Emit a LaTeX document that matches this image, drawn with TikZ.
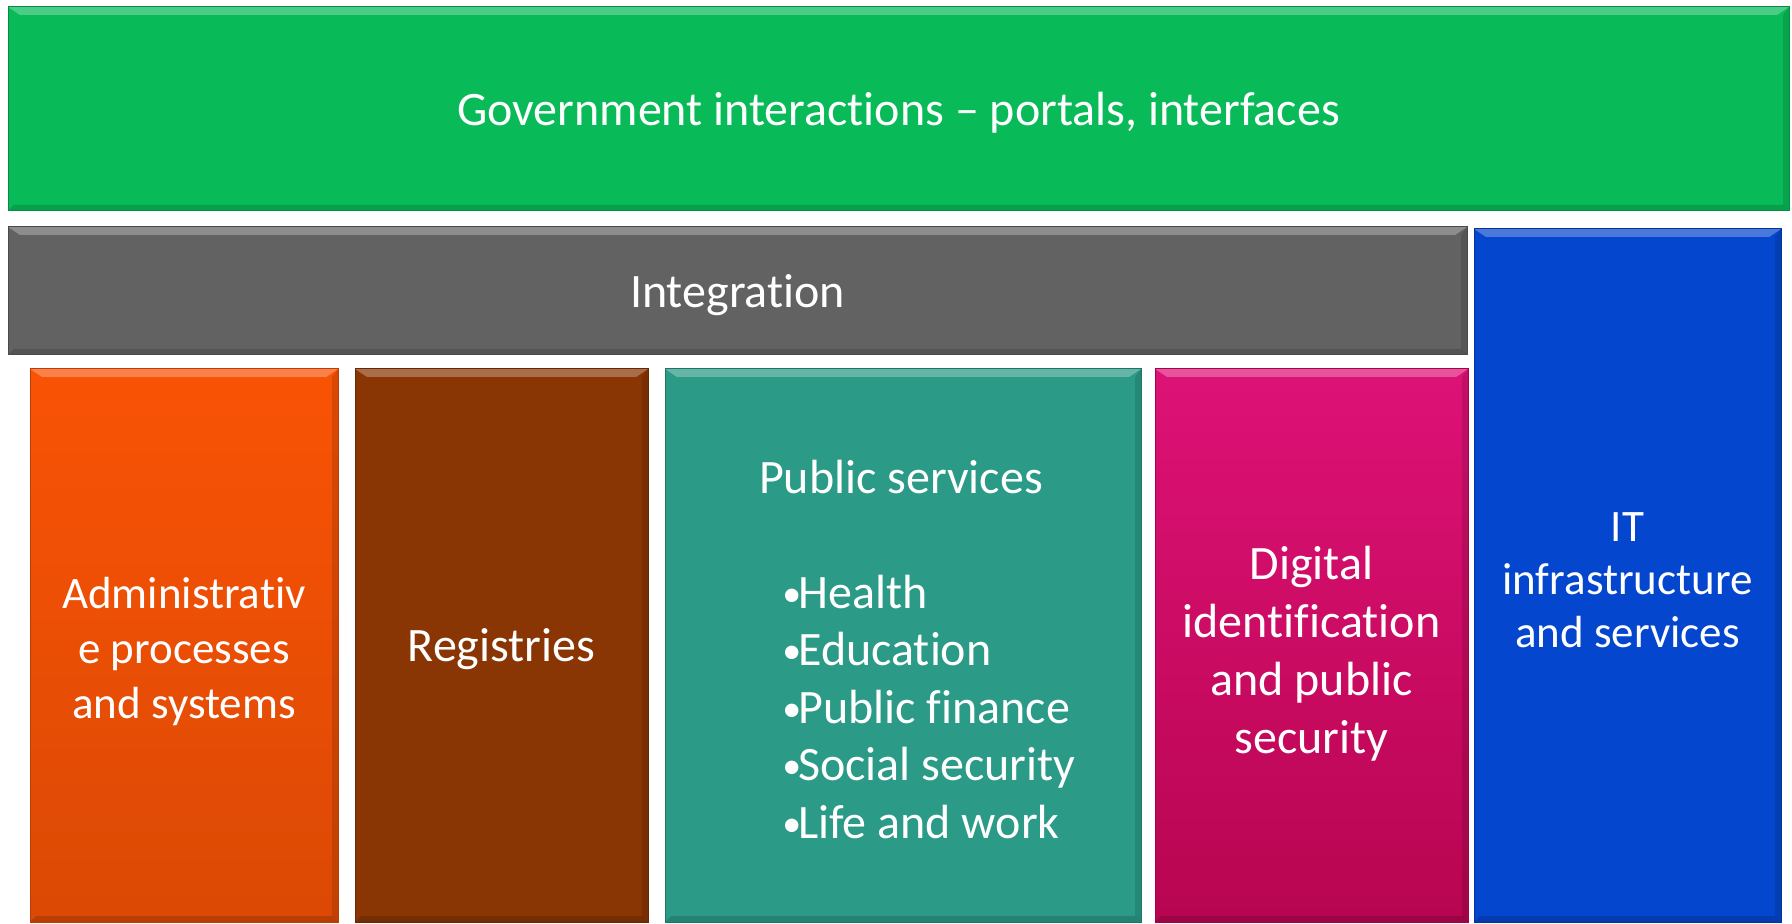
\documentclass[tikz,border=0pt]{standalone}
\usepackage{fontspec}
\setmainfont{Carlito}[Ligatures={NoCommon}]
\usepackage{tikz}
\usetikzlibrary{positioning,calc}

\definecolor{govgreen}{HTML}{08BB58}
\definecolor{intgray}{HTML}{626262}
\definecolor{admorange}{HTML}{F95305}
\definecolor{regbrown}{HTML}{8A3604}
\definecolor{pubteal}{HTML}{2B9A87}
\definecolor{idpink}{HTML}{D8065F}
\definecolor{itblue}{HTML}{0546CE}

\newcommand\listdot{\raisebox{1pt}{\fontsize{19}{19}\selectfont •}\hspace{-1.5pt}}

\tikzset{
	bevel/.style={path picture={
		\fill[white,opacity=.28] (path picture bounding box.north west) -- (path picture bounding box.north east)
			-- ([shift={(-6pt,-4pt)}]path picture bounding box.north east) -- ([shift={(6pt,-4pt)}]path picture bounding box.north west) -- cycle;
		\fill[black,opacity=.15] (path picture bounding box.south west) -- (path picture bounding box.south east)
			-- ([shift={(-3pt,3pt)}]path picture bounding box.south east) -- ([shift={(3pt,3pt)}]path picture bounding box.south west) -- cycle;
		\fill[black,opacity=.12] (path picture bounding box.north east) -- (path picture bounding box.south east)
			-- ([shift={(-3pt,3pt)}]path picture bounding box.south east) -- ([shift={(-3pt,-4pt)}]path picture bounding box.north east) -- cycle;
	}},
	% line boxes as in the slide: ascent .95em, descent .27em
	block/.style={rectangle, draw=#1!75!black, fill=#1, text=white, line width=0.5pt, inner sep=0pt, align=center, bevel,
		execute at begin node={\rule{0pt}{0.95em}}, execute at end node={\rule[-0.27em]{0pt}{0pt}}},
	txt/.style={text=white, inner sep=0pt, align=center, font=\fontsize{24}{29}\selectfont},
}
\tikzstyle{col} = [minimum height=276.5pt, font=\fontsize{24}{29}\selectfont]

\begin{document}
\begin{tikzpicture}[x=0.5pt, y=-0.5pt]
	\useasboundingbox (0,0) rectangle (1792,924);

	\node[block=govgreen, minimum width=890.5pt, minimum height=102pt, font=\fontsize{24}{29}\selectfont] (gov) at (898.5,109)
		{Government interactions -- portals, interfaces};
	\node[block=intgray, minimum width=729.5pt, minimum height=64pt, font=\fontsize{24}{29}\selectfont] (int) at (737.5,291)
		{Integration};

	% columns under the integration bar
	\node[block=admorange, col, minimum width=154pt, top color=admorange!100!white, bottom color=admorange!88!black] (adm) at (184,645.5) {};
	\node[block=regbrown, col, minimum width=146.5pt] (reg) [right=8pt of adm] {Registries};
	\node[block=pubteal, col, minimum width=238pt] (pub) [right=8pt of reg] {};
	\node[block=idpink, col, minimum width=156.5pt, top color=idpink!90!magenta!95!white, bottom color=idpink!85!black] (id) [right=6.5pt of pub] {};
	\node[block=itblue, minimum width=153.5pt, minimum height=346.5pt] (it) at (1627.5,575.5) {};

	\node[txt, font=\fontsize{22.5}{27.5}\selectfont, yshift=-2.9pt] (admtext) at (adm) {Administrativ\\e processes\\and systems};
	\node[txt] (pubtitle) at (901,477) {Public services};
	\node[txt, align=left, font=\fontsize{24}{28.75}\selectfont, anchor=west] (publist) at (782,707)
		{\listdot Health\\\listdot Education\\\listdot Public finance\\\listdot Social security\\\listdot Life and work};
	\node[txt, yshift=-4pt] (idtext) at (id) {Digital\\identification\\and public\\security};
	\node[txt, font=\fontsize{22.5}{26.5}\selectfont, yshift=-2.5pt] (ittext) at (it) {IT\\infrastructure\\and services};
\end{tikzpicture}
\end{document}
